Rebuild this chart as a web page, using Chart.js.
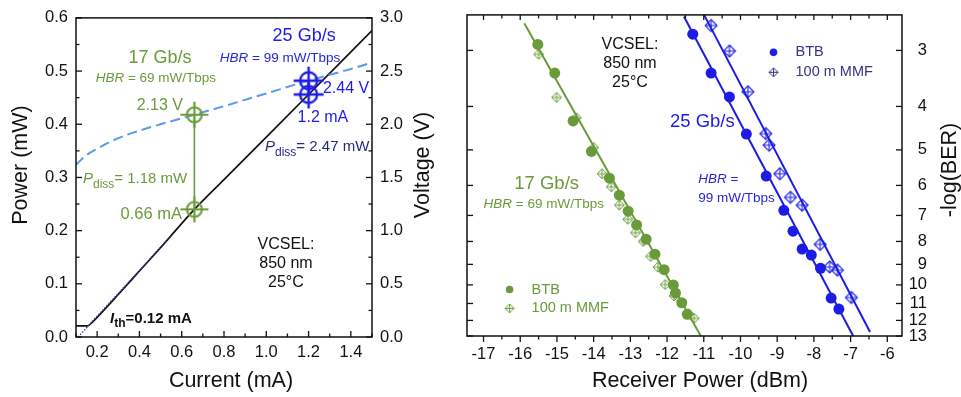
<!DOCTYPE html>
<html><head><meta charset="utf-8">
<script src="https://cdn.jsdelivr.net/npm/chart.js@4/dist/chart.umd.min.js"></script>
<style>
html,body{margin:0;padding:0;background:#fff;width:961px;height:397px;overflow:hidden}
#c1{position:absolute;left:0;top:0}
#c2{position:absolute;left:440px;top:0}
</style></head><body>
<canvas id="c1" width="440" height="397"></canvas>
<canvas id="c2" width="521" height="397"></canvas>
<script>
// ---------- data: left panel (L-I-V) ----------
const currentTicks = [0.2, 0.4, 0.6, 0.8, 1.0, 1.2, 1.4];
const currentTickLabels = ['0.2', '0.4', '0.6', '0.8', '1.0', '1.2', '1.4'];
const powerTicks = [0, 0.1, 0.2, 0.3, 0.4, 0.5, 0.6];
const powerTickLabels = ['0.0', '0.1', '0.2', '0.3', '0.4', '0.5', '0.6'];
const voltageTicks = [0, 0.5, 1.0, 1.5, 2.0, 2.5, 3.0];
const voltageTickLabels = ['0.0', '0.5', '1.0', '1.5', '2.0', '2.5', '3.0'];

const liCurrent = [0.10, 0.155, 0.175, 0.20, 0.30, 0.40, 0.50, 0.66, 0.80, 1.00, 1.20, 1.50];
const liPower   = [0.021, 0.021, 0.027, 0.037, 0.080, 0.124, 0.168, 0.240, 0.296, 0.376, 0.456, 0.576];
const thrFitCurrent = [0.11, 0.55];
const thrFitPower   = [0.0, 0.19];
const ivCurrent = [0.10, 0.15, 0.20, 0.30, 0.40, 0.50, 0.66, 0.80, 1.00, 1.20, 1.40, 1.50];
const ivVoltage = [1.62, 1.71, 1.77, 1.87, 1.94, 2.00, 2.09, 2.17, 2.29, 2.41, 2.52, 2.58];
const opCurrent = [0.66, 1.2];     // 17 Gb/s, 25 Gb/s operating points
const opVoltage = [2.09, 2.41];
const opPower   = [0.240, 0.456];

// ---------- data: right panel (BER) ----------
const rxTicks = [-17, -16, -15, -14, -13, -12, -11, -10, -9, -8, -7, -6];
const rxTickLabels = ['-17', '-16', '-15', '-14', '-13', '-12', '-11', '-10', '-9', '-8', '-7', '-6'];
const berTicks = [3, 4, 5, 6, 7, 8, 9, 10, 11, 12, 13];
const berTickLabels = ['3', '4', '5', '6', '7', '8', '9', '10', '11', '12', '13'];

const g17BtbRx  = [-15.52, -15.06, -14.56, -14.06, -13.57, -13.30, -13.06, -12.83, -12.57, -12.33, -12.08, -11.83, -11.77, -11.60, -11.45];
const g17BtbBer = [2.91, 3.37, 4.31, 5.04, 5.78, 6.31, 6.85, 7.35, 7.91, 8.54, 9.25, 10.0, 10.43, 10.96, 11.63];
const g17MmfRx  = [-15.50, -15.01, -14.47, -14.00, -13.77, -13.52, -13.30, -13.07, -12.86, -12.65, -12.45, -12.25, -12.05, -11.81, -11.41, -11.26];
const g17MmfBer = [3.06, 3.82, 4.24, 4.94, 5.65, 6.04, 6.64, 7.14, 7.65, 8.00, 8.64, 9.13, 9.98, 10.58, 11.60, 11.87];
const g17FitRx  = [-15.89, -11.08];
const g17FitBer = [2.61, 13.0];

const b25BtbRx  = [-11.30, -10.80, -10.30, -9.84, -9.30, -8.82, -8.57, -8.32, -8.07, -7.82, -7.53, -7.32];
const b25BtbBer = [2.76, 3.37, 3.81, 4.61, 5.72, 6.82, 7.59, 8.32, 8.58, 9.18, 10.70, 11.32];
const b25MmfRx  = [-10.80, -10.30, -9.80, -9.31, -9.22, -8.93, -8.64, -8.32, -7.83, -7.57, -7.36, -6.98];
const b25MmfBer = [2.64, 3.01, 3.71, 4.60, 4.88, 5.65, 6.38, 6.64, 8.12, 9.12, 9.27, 10.67];
const b25BtbFitRx  = [-11.54, -6.93];
const b25BtbFitBer = [2.52, 13.0];
const b25MmfFitRx  = [-10.99, -6.47];
const b25MmfFitBer = [2.50, 12.73];

// ---------- styling ----------
const FONT = "'Liberation Sans', Arial, Helvetica, sans-serif";
const GREEN = '#6a9b3a', BLUE = '#1c1ce4', BLUE2 = '#2626d2', LBLUE = '#5b98ee', NAVY = '#28287f', LEGNAVY = '#33338a', BLACK = '#111111';
const TICK_FONT = {size: 16.5, family: FONT, lineHeight: 1.2};
const TITLE_SIZE = 21.5;
Chart.defaults.font.family = FONT;
Chart.defaults.color = BLACK;

const pts = (xs, ys) => xs.map((x, i) => ({x, y: ys[i]}));

function crossCircle(color, r, hx, hy, lw) {
  const s = Math.ceil(2 * Math.max(hx, hy) + 4);
  const c = document.createElement('canvas'); c.width = s; c.height = s;
  const g = c.getContext('2d'); const m = s / 2;
  g.strokeStyle = color; g.lineWidth = lw;
  g.beginPath(); g.arc(m, m, r, 0, 2 * Math.PI); g.stroke();
  g.beginPath(); g.moveTo(m - hx, m); g.lineTo(m + hx, m); g.moveTo(m, m - hy); g.lineTo(m, m + hy); g.stroke();
  return c;
}
function diamondCross(color, h, lw) {
  const s = Math.ceil(2 * h + 4);
  const c = document.createElement('canvas'); c.width = s; c.height = s;
  const g = c.getContext('2d'); const m = s / 2;
  g.strokeStyle = color; g.lineWidth = lw;
  g.beginPath(); g.moveTo(m, m - h); g.lineTo(m + h, m); g.lineTo(m, m + h); g.lineTo(m - h, m); g.closePath(); g.stroke();
  g.beginPath(); g.moveTo(m, m - h); g.lineTo(m, m + h); g.moveTo(m - h, m); g.lineTo(m + h, m); g.stroke();
  return c;
}
function minorTicks(majors, lo, hi) {
  const step = majors[1] - majors[0], out = [];
  for (let v = majors[0] - step / 2; v <= hi + 1e-9; v += step) if (v >= lo - 1e-9) out.push(+v.toFixed(6));
  return out;
}
function fontFor(p, size, bold) {
  const s = p.sub ? Math.round(size * 0.8) : size;
  return `${p.italic ? 'italic ' : ''}${bold ? 'bold ' : ''}${s}px ${FONT}`;
}
function drawRich(ctx, parts, x, y, align, size, color, bold) {
  ctx.save();
  ctx.textBaseline = 'middle'; ctx.textAlign = 'left'; ctx.fillStyle = color;
  const w = parts.map(p => { ctx.font = fontFor(p, size, bold); return ctx.measureText(p.t).width; });
  const total = w.reduce((a, b) => a + b, 0);
  let cx = align === 'center' ? x - total / 2 : align === 'right' ? x - total : x;
  parts.forEach((p, i) => { ctx.font = fontFor(p, size, bold); ctx.fillText(p.t, cx, y + (p.sub ? size * 0.38 : 0)); cx += w[i]; });
  ctx.restore();
}
function framePlugin(spec) {
  return { id: 'frameTicks', afterDatasetsDraw(chart) {
    const {ctx, chartArea: a} = chart;
    ctx.save(); ctx.strokeStyle = BLACK; ctx.lineWidth = 1.5;
    ctx.strokeRect(a.left, a.top, a.right - a.left, a.bottom - a.top);
    ctx.lineWidth = 1.3;
    spec.forEach(t => {
      const sc = chart.scales[t.scale];
      t.values.forEach(v => {
        const p = sc.getPixelForValue(v);
        ctx.beginPath();
        if (t.side === 'bottom') { ctx.moveTo(p, a.bottom); ctx.lineTo(p, a.bottom + (t.inward ? -t.len : t.len)); }
        else if (t.side === 'top') { ctx.moveTo(p, a.top); ctx.lineTo(p, a.top + (t.inward ? t.len : -t.len)); }
        else if (t.side === 'left') { ctx.moveTo(a.left, p); ctx.lineTo(a.left + (t.inward ? t.len : -t.len), p); }
        else { ctx.moveTo(a.right, p); ctx.lineTo(a.right + (t.inward ? -t.len : t.len), p); }
        ctx.stroke();
      });
    });
    ctx.restore();
  }};
}
function textPlugin(items, titles, legend) {
  return { id: 'texts', afterDraw(chart) {
    const ctx = chart.ctx;
    (legend || []).forEach(l => {
      const px = chart.scales.x.getPixelForValue(l.x), py = chart.scales.y.getPixelForValue(l.y);
      if (l.img) ctx.drawImage(l.img, px - l.img.width / 2, py - l.img.height / 2);
      else { ctx.beginPath(); ctx.fillStyle = l.color; ctx.arc(px, py, l.r, 0, 2 * Math.PI); ctx.fill(); }
    });
    items.forEach(it => {
      const px = chart.scales.x.getPixelForValue(it.x), py = chart.scales[it.axis || 'y'].getPixelForValue(it.y);
      drawRich(ctx, it.parts, px, py, it.align || 'left', it.size, it.color, it.bold);
    });
    titles.forEach(t => {
      ctx.save(); ctx.translate(t.x, t.y); if (t.rot) ctx.rotate(t.rot);
      ctx.font = `${TITLE_SIZE}px ${FONT}`; ctx.fillStyle = BLACK; ctx.textAlign = 'center'; ctx.textBaseline = 'middle';
      ctx.fillText(t.text, 0, 0); ctx.restore();
    });
  }};
}
const noGrid = {display: false, drawTicks: false};
const noBorder = {display: false};

// ---------- left chart ----------
const opMarkers = [crossCircle(GREEN, 7.5, 14, 13, 2.2), crossCircle(BLUE, 8.5, 15, 14, 2.4)];
const T = (t, o) => Object.assign({t}, o || {});
new Chart(document.getElementById('c1'), {
  type: 'scatter',
  data: { datasets: [
    { data: pts(opCurrent, opVoltage), yAxisID: 'y1', pointStyle: opMarkers, pointRadius: 6, showLine: false },
    { data: pts(opCurrent, opPower), yAxisID: 'y', pointStyle: opMarkers, pointRadius: 6, showLine: false },
    { data: [{x: opCurrent[0], y: opVoltage[0]}, {x: opCurrent[0], y: opPower[0] * voltageTicks[6] / powerTicks[6]}], yAxisID: 'y1',
      showLine: true, borderColor: GREEN, borderWidth: 1.6, pointRadius: 0 },
    { data: pts(ivCurrent, ivVoltage), yAxisID: 'y1', showLine: true, borderColor: LBLUE, borderWidth: 2,
      borderDash: [10, 5], pointRadius: 0, cubicInterpolationMode: 'monotone' },
    { data: pts(thrFitCurrent, thrFitPower), yAxisID: 'y', showLine: true, borderColor: '#3a3a9a', borderWidth: 1.4,
      borderDash: [1.5, 1.5], pointRadius: 0 },
    { data: pts(liCurrent, liPower), yAxisID: 'y', showLine: true, borderColor: BLACK, borderWidth: 1.7, pointRadius: 0,
      cubicInterpolationMode: 'monotone' }
  ]},
  options: {
    responsive: false, animation: false, devicePixelRatio: 1,
    layout: {padding: {top: 15, left: 0, right: 0, bottom: 0}},
    plugins: {legend: {display: false}, tooltip: {enabled: false}},
    scales: {
      x: { type: 'linear', min: 0.1, max: 1.5, grid: noGrid, border: noBorder,
        afterBuildTicks: s => { s.ticks = currentTicks.map(v => ({value: v})); },
        afterFit: s => { s.height = 60; },
        ticks: { autoSkip: false, maxRotation: 0, minRotation: 0, padding: 6, font: TICK_FONT, color: BLACK,
          callback: (v, i) => currentTickLabels[i] } },
      y: { type: 'linear', position: 'left', min: 0, max: 0.6, grid: noGrid, border: noBorder,
        afterBuildTicks: s => { s.ticks = powerTicks.map(v => ({value: v})); },
        afterFit: s => { s.width = 76; },
        ticks: { autoSkip: false, padding: 8, font: TICK_FONT, color: BLACK, callback: (v, i) => powerTickLabels[i] } },
      y1: { type: 'linear', position: 'right', min: 0, max: 3.0, grid: noGrid, border: noBorder,
        afterBuildTicks: s => { s.ticks = voltageTicks.map(v => ({value: v})); },
        afterFit: s => { s.width = 68; },
        ticks: { autoSkip: false, padding: 8, font: TICK_FONT, color: BLACK, callback: (v, i) => voltageTickLabels[i] } }
    }
  },
  plugins: [
    framePlugin([
      {scale: 'x', side: 'bottom', values: currentTicks, len: 6, inward: true},
      {scale: 'x', side: 'bottom', values: minorTicks(currentTicks, 0.1, 1.5), len: 3.5, inward: true},
      {scale: 'y', side: 'left', values: powerTicks, len: 6, inward: true},
      {scale: 'y', side: 'left', values: minorTicks(powerTicks, 0, 0.6), len: 3.5, inward: true},
      {scale: 'y1', side: 'right', values: voltageTicks, len: 6, inward: true},
      {scale: 'y1', side: 'right', values: minorTicks(voltageTicks, 0, 3), len: 3.5, inward: true}
    ]),
    textPlugin([
      {x: 0.497, y: 0.525, parts: [T('17 Gb/s')], size: 18, color: GREEN, align: 'center'},
      {x: 0.478, y: 0.486, parts: [T('HBR', {italic: true}), T(' = 69 mW/Tbps')], size: 13.5, color: GREEN, align: 'center'},
      {x: 0.606, y: 0.436, parts: [T('2.13 V')], size: 16, color: GREEN, align: 'right'},
      {x: 0.133, y: 0.298, parts: [T('P', {italic: true}), T('diss', {sub: true}), T('= 1.18 mW')], size: 15, color: GREEN},
      {x: 0.601, y: 0.231, parts: [T('0.66 mA')], size: 16.5, color: GREEN, align: 'right'},
      {x: 1.179, y: 0.566, parts: [T('25 Gb/s')], size: 18, color: BLUE, align: 'center'},
      {x: 1.065, y: 0.525, parts: [T('HBR', {italic: true}), T(' = 99 mW/Tbps')], size: 13.5, color: BLUE2, align: 'center'},
      {x: 1.268, y: 0.468, parts: [T('2.44 V')], size: 16, color: BLUE},
      {x: 1.268, y: 0.412, parts: [T('1.2 mA')], size: 16, color: BLUE, align: 'center'},
      {x: 0.994, y: 0.358, parts: [T('P', {italic: true}), T('diss', {sub: true}), T('= 2.47 mW')], size: 15, color: NAVY},
      {x: 1.093, y: 0.173, parts: [T('VCSEL:')], size: 16, color: BLACK, align: 'center'},
      {x: 1.093, y: 0.138, parts: [T('850 nm')], size: 16, color: BLACK, align: 'center'},
      {x: 1.093, y: 0.102, parts: [T('25°C')], size: 16, color: BLACK, align: 'center'},
      {x: 0.261, y: 0.035, parts: [T('I', {italic: true}), T('th', {sub: true}), T('=0.12 mA')], size: 15, color: BLACK, bold: true}
    ], [
      {text: 'Current (mA)', x: 231, y: 381},
      {text: 'Power (mW)', x: 21, y: 165, rot: -Math.PI / 2},
      {text: 'Voltage (V)', x: 423, y: 165, rot: -Math.PI / 2}
    ])
  ]
});

// ---------- right chart ----------
const gDia = diamondCross(GREEN, 5, 1), bDia = diamondCross(BLUE, 6, 1.1);
new Chart(document.getElementById('c2'), {
  type: 'scatter',
  data: { datasets: [
    { data: pts(g17BtbRx, g17BtbBer), pointStyle: 'circle', pointRadius: 5.5, pointBackgroundColor: GREEN, pointBorderWidth: 0, showLine: false },
    { data: pts(g17MmfRx, g17MmfBer), pointStyle: gDia, pointRadius: 5, showLine: false },
    { data: pts(b25BtbRx, b25BtbBer), pointStyle: 'circle', pointRadius: 5.5, pointBackgroundColor: BLUE, pointBorderWidth: 0, showLine: false },
    { data: pts(b25MmfRx, b25MmfBer), pointStyle: bDia, pointRadius: 6, showLine: false },
    { data: pts(g17FitRx, g17FitBer), showLine: true, borderColor: GREEN, borderWidth: 2, pointRadius: 0, clip: 1 },
    { data: pts(b25BtbFitRx, b25BtbFitBer), showLine: true, borderColor: BLUE, borderWidth: 2, pointRadius: 0, clip: 1 },
    { data: pts(b25MmfFitRx, b25MmfFitBer), showLine: true, borderColor: BLUE, borderWidth: 2, pointRadius: 0, clip: 1 }
  ]},
  options: {
    responsive: false, animation: false, devicePixelRatio: 1,
    layout: {padding: {top: 13, left: 27, right: 34, bottom: 0}},
    plugins: {legend: {display: false}, tooltip: {enabled: false}},
    scales: {
      x: { type: 'linear', min: -17.45, max: -5.6, grid: noGrid, border: noBorder,
        afterBuildTicks: s => { s.ticks = rxTicks.map(v => ({value: v})); },
        afterFit: s => { s.height = 61; },
        ticks: { autoSkip: false, maxRotation: 0, minRotation: 0, padding: 9, font: TICK_FONT, color: BLACK,
          callback: (v, i) => rxTickLabels[i] } },
      y: { type: 'logarithmic', position: 'right', reverse: true, min: 2.5, max: 13, grid: noGrid, border: noBorder,
        afterBuildTicks: s => { s.ticks = berTicks.map(v => ({value: v})); },
        afterFit: s => { s.width = 25; },
        ticks: { autoSkip: false, padding: 5, crossAlign: 'far', font: TICK_FONT, color: BLACK,
          callback: (v, i) => berTickLabels[i] } }
    }
  },
  plugins: [
    framePlugin([
      {scale: 'x', side: 'bottom', values: rxTicks, len: 6, inward: false},
      {scale: 'x', side: 'bottom', values: minorTicks(rxTicks, -17.45, -5.6), len: 3.5, inward: false},
      {scale: 'x', side: 'top', values: rxTicks, len: 5, inward: true},
      {scale: 'x', side: 'top', values: minorTicks(rxTicks, -17.45, -5.6), len: 3.5, inward: true},
      {scale: 'y', side: 'right', values: berTicks, len: 6, inward: true},
      {scale: 'y', side: 'left', values: berTicks, len: 6, inward: true}
    ]),
    textPlugin([
      {x: -13.01, y: 2.909, parts: [T('VCSEL:')], size: 16, color: BLACK, align: 'center'},
      {x: -13.01, y: 3.206, parts: [T('850 nm')], size: 16, color: BLACK, align: 'center'},
      {x: -13.01, y: 3.532, parts: [T('25°C')], size: 16, color: BLACK, align: 'center'},
      {x: -15.28, y: 5.94, parts: [T('17 Gb/s')], size: 18.5, color: GREEN, align: 'center'},
      {x: -15.36, y: 6.61, parts: [T('HBR', {italic: true}), T(' = 69 mW/Tbps')], size: 13.5, color: GREEN, align: 'center'},
      {x: -11.04, y: 4.33, parts: [T('25 Gb/s')], size: 18.5, color: BLUE, align: 'center'},
      {x: -11.15, y: 5.82, parts: [T('HBR', {italic: true}), T(' =')], size: 13.5, color: BLUE2},
      {x: -11.15, y: 6.41, parts: [T('99 mW/Tbps')], size: 13.5, color: BLUE2},
      {x: -15.69, y: 10.24, parts: [T('BTB')], size: 14.5, color: GREEN},
      {x: -15.69, y: 11.28, parts: [T('100 m MMF')], size: 14.5, color: GREEN},
      {x: -8.50, y: 3.03, parts: [T('BTB')], size: 14.5, color: LEGNAVY},
      {x: -8.50, y: 3.356, parts: [T('100 m MMF')], size: 14.5, color: LEGNAVY}
    ], [
      {text: 'Receiver Power (dBm)', x: 260, y: 381},
      {text: '-log(BER)', x: 510, y: 170, rot: -Math.PI / 2}
    ], [
      {x: -16.29, y: 10.24, r: 3.8, color: GREEN},
      {x: -16.29, y: 11.28, img: diamondCross(GREEN, 4.5, 1)},
      {x: -9.10, y: 3.03, r: 3.8, color: BLUE},
      {x: -9.10, y: 3.356, img: diamondCross(LEGNAVY, 4.5, 1)}
    ])
  ]
});
</script>
</body></html>
